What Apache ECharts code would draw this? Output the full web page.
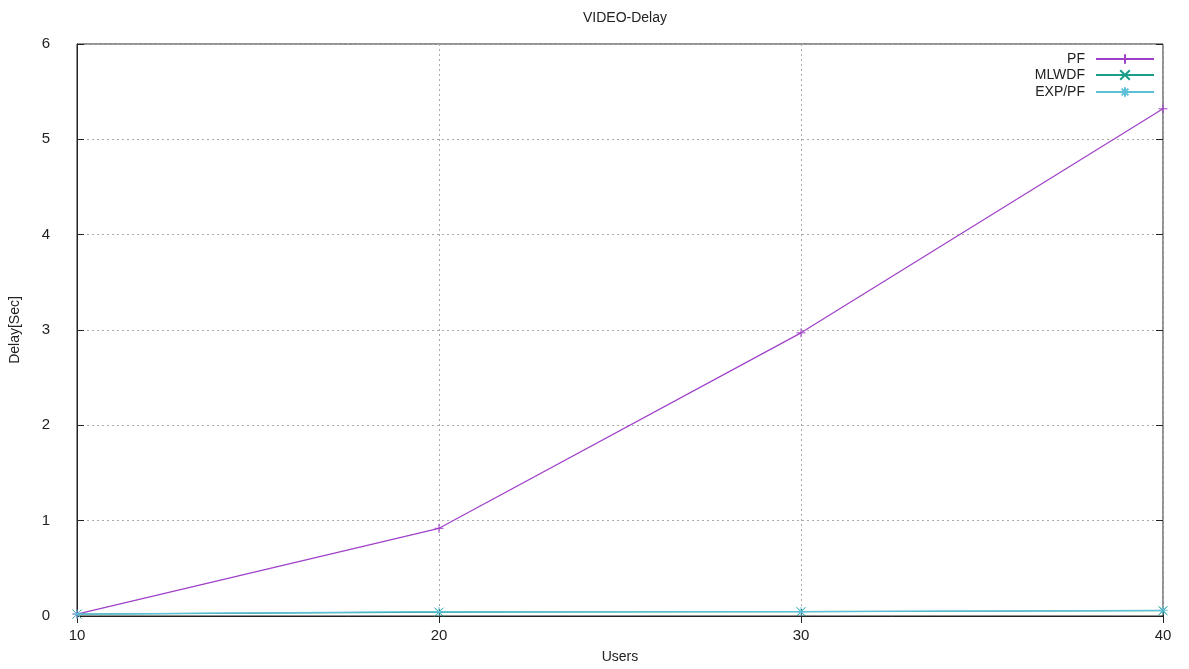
<!DOCTYPE html>
<html>
<head>
<meta charset="utf-8">
<script src="https://cdn.jsdelivr.net/npm/echarts@6/dist/echarts.min.js"></script>
<style>html,body{margin:0;padding:0;background:#fff}#c{width:1189px;height:669px}</style>
</head>
<body>
<div id="c"></div>
<script>
const users = [10, 20, 30, 40];
const pf = [0.02, 0.92, 2.97, 5.32];
const mlwdf = [0.02, 0.04, 0.045, 0.055];
const exppf = [0.02, 0.045, 0.045, 0.06];
const xTicks = [10, 20, 30, 40];
const yTicks = [0, 1, 2, 3, 4, 5, 6];

const FONT = '"Liberation Sans", Arial, sans-serif';
const plusSym = 'path://M0,5L10,5M5,0L5,10';
const xSym = 'path://M0,0L10,10M10,0L0,10';
const starSym = 'path://M5,0L5,10M0,5L10,5M1.5,1.5L8.5,8.5M1.5,8.5L8.5,1.5';

function pairs(v){ return users.map((u,i)=>[u,v[i]]); }

function mk(name, data, color, sym, z){
  return {
    name, type:'line', data: pairs(data), symbol: sym, symbolSize: 9, z,
    lineStyle:{color, width:1.2},
    itemStyle:{color, borderColor:color, borderWidth:1},
    emphasis:{disabled:true}, animation:false
  };
}
const names = ['PF','MLWDF','EXP/PF'];
const tops = [52, 68, 85];
const chart = echarts.init(document.getElementById('c'));
const tickOnly = {
  axisLine:{show:false}, axisLabel:{show:false}, splitLine:{show:false},
  axisTick:{show:true, inside:true, length:7, lineStyle:{color:'#222'}}
};
chart.setOption({
  backgroundColor:'#fff',
  animation:false,
  title:{text:'VIDEO-Delay', left: 620, textAlign:'center', top:6,
    textStyle:{fontFamily:FONT, fontSize:14, fontWeight:'normal', color:'#222'}},
  legend: names.map((n,i)=>({
    data:[n], right:34, top:tops[i], orient:'vertical', align:'right', padding:0,
    itemWidth:58, itemHeight:12, itemGap:4,
    textStyle:{fontFamily:FONT, fontSize:14, color:'#222', padding:[0,6,0,0]},
    selectedMode:false
  })),
  grid:{left:77, right:26, top:44, bottom:49, show:true, borderColor:'#222', borderWidth:1},
  xAxis:[{type:'value', min:10, max:40, interval:10,
    name:'Users', nameLocation:'middle', nameGap:34,
    nameTextStyle:{fontFamily:FONT, fontSize:14, color:'#222'},
    axisLine:{lineStyle:{color:'#222'}},
    axisTick:{inside:true, length:7, lineStyle:{color:'#222'}},
    axisLabel:{fontFamily:FONT, fontSize:15, color:'#222', margin:12,
      formatter:v=>xTicks.includes(v)?String(v):''},
    splitLine:{show:true, lineStyle:{color:'#aaa', type:[2,3], width:1}}
  },
  Object.assign({type:'value', min:10, max:40, interval:10, position:'top'}, tickOnly)],
  yAxis:[{type:'value', min:0, max:6, interval:1,
    name:'Delay[Sec]', nameLocation:'middle', nameGap:55, nameRotate:90,
    nameTextStyle:{fontFamily:FONT, fontSize:14, color:'#222'},
    axisLine:{show:true, lineStyle:{color:'#222'}},
    axisTick:{show:true, inside:true, length:7, lineStyle:{color:'#222'}},
    axisLabel:{fontFamily:FONT, fontSize:15, color:'#222', margin:27,
      formatter:v=>yTicks.includes(v)?String(v):''},
    splitLine:{show:true, lineStyle:{color:'#aaa', type:[2,3], width:1}}
  },
  Object.assign({type:'value', min:0, max:6, interval:1, position:'right'}, tickOnly)],
  series:[
    mk('PF', pf, '#a040c8', plusSym, 3),
    mk('MLWDF', mlwdf, '#1a9e8a', xSym, 4),
    mk('EXP/PF', exppf, '#5cc0d8', starSym, 5)
  ]
});
</script>
</body>
</html>
